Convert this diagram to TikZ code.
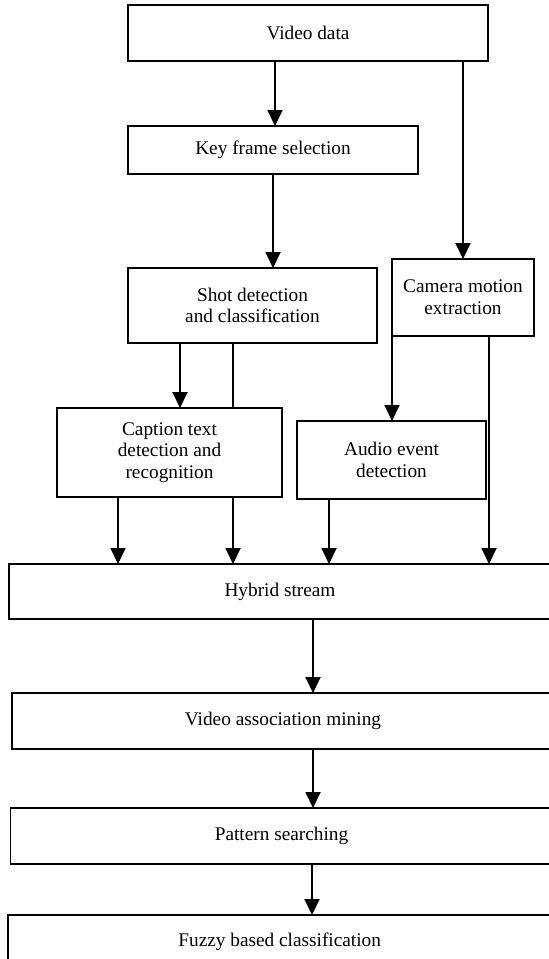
\documentclass[tikz,border=0pt]{standalone}
\usepackage{fontspec}
\setmainfont{Liberation Serif}
\usetikzlibrary{arrows.meta}
\tikzset{
  box/.style={draw=black, line width=1.8bp, inner sep=0pt, outer sep=0pt, align=center,
    font=\fontsize{19.3bp}{21.7bp}\selectfont},
  arr/.style={draw=black, line width=1.9bp, -{Triangle[width=15bp,length=16bp]}},
  ln/.style={draw=black, line width=1.9bp}
}
\begin{document}
\begin{tikzpicture}[x=1bp,y=-1bp]
\useasboundingbox (0,0) rectangle (549,959);
\begin{scope}
\clip (0,0) rectangle (549,959);
\node[box, minimum width=360bp, minimum height=56bp] (vd) at (308,33) {Video data};
\node[box, minimum width=290bp, minimum height=48bp] (kf) at (273,150) {Key frame selection};
\node[box, minimum width=249bp, minimum height=75bp] (sd) at (252.5,305.5) {Shot detection\\and classification};
\node[box, minimum width=142bp, minimum height=77bp] (cm) at (463,297.5) {Camera motion\\extraction};
\node[box, minimum width=225bp, minimum height=89bp] (ct) at (169.5,452.5) {Caption text\\detection and\\recognition};
\node[box, minimum width=189bp, minimum height=78bp] (ae) at (391.5,460) {Audio event\\detection};
\node[box, minimum width=542bp, minimum height=55bp] (hs) at (280,591.5) {Hybrid stream};
\node[box, minimum width=542bp, minimum height=56bp] (vam) at (283,721) {Video association mining};
\node[box, minimum width=542bp, minimum height=56bp] (ps) at (281.5,836) {Pattern searching};
\node[box, minimum width=544bp, minimum height=54bp] (fz) at (279.7,942) {Fuzzy based classification};

\coordinate (c1) at (275,0);
\coordinate (c2) at (463,0);
\coordinate (c3) at (273,0);
\coordinate (c4) at (180,0);
\coordinate (c5) at (233,0);
\coordinate (c6) at (392,0);
\coordinate (c7) at (489,0);
\coordinate (c8) at (118,0);
\coordinate (c9) at (329,0);
\coordinate (c10) at (313,0);
\coordinate (c11) at (312,0);

\draw[arr] (vd.south -| c1) -- (kf.north -| c1);
\draw[arr] (vd.south -| c2) -- (cm.north -| c2);
\draw[arr] (kf.south -| c3) -- (sd.north -| c3);
\draw[arr] (sd.south -| c4) -- (ct.north -| c4);
\draw[ln]  (sd.south -| c5) -- (ct.north -| c5);
\draw[arr] (cm.south -| c6) -- (ae.north -| c6);
\draw[arr] (cm.south -| c7) -- (hs.north -| c7);
\draw[arr] (ct.south -| c8) -- (hs.north -| c8);
\draw[arr] (ct.south -| c5) -- (hs.north -| c5);
\draw[arr] (ae.south -| c9) -- (hs.north -| c9);
\draw[arr] (hs.south -| c10) -- (vam.north -| c10);
\draw[arr] (vam.south -| c10) -- (ps.north -| c10);
\draw[arr] (ps.south -| c11) -- (fz.north -| c11);
\end{scope}
\end{tikzpicture}
\end{document}
